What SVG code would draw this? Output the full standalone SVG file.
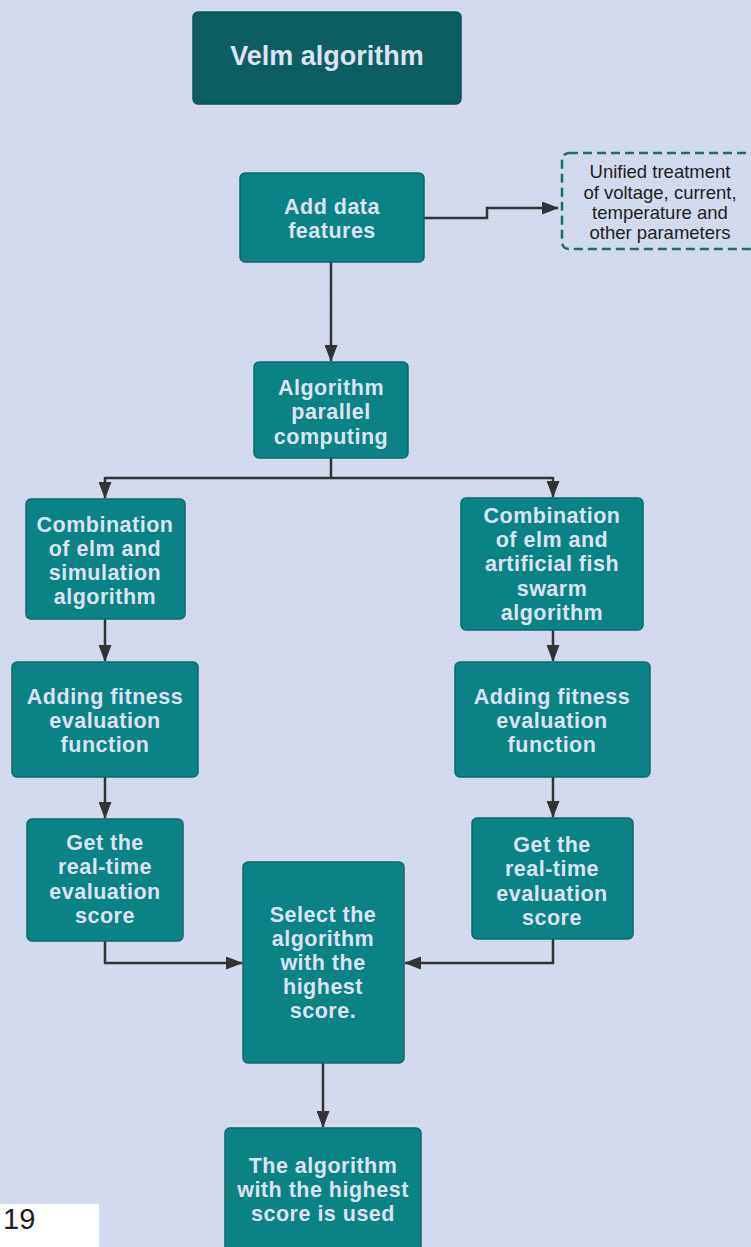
<svg xmlns="http://www.w3.org/2000/svg" width="751" height="1247" viewBox="0 0 751 1247">
<defs>
<pattern id="tex" width="8" height="3" patternUnits="userSpaceOnUse">
<rect width="8" height="3" fill="#d4dbee"/>
<rect y="2" width="8" height="1" fill="#ccd4e8" opacity="0.6"/>
</pattern>
<marker id="ah" viewBox="0 0 17 13" refX="16" refY="6.5" markerWidth="17" markerHeight="13" markerUnits="userSpaceOnUse" orient="auto">
<path d="M0,0 L17,6.5 L0,13 Z" fill="#333"/>
</marker>
<style>
.box{fill:#0b8385;stroke:#0a6b6c;stroke-width:1.5}
.title{fill:#0b5f60;stroke:#0a5556;stroke-width:1.5}
.t{font-family:"Liberation Sans",Arial,sans-serif;font-weight:bold;font-size:21.5px;letter-spacing:0.5px;fill:#dde3f2;text-anchor:middle}
.tt{font-family:"Liberation Sans",Arial,sans-serif;font-weight:bold;font-size:27px;fill:#dde3f2;text-anchor:middle}
.d{font-family:"Liberation Sans",Arial,sans-serif;font-size:18.5px;fill:#1e1e1e;text-anchor:middle}
.c{fill:none;stroke:#333;stroke-width:2.5}
</style>
</defs>
<rect width="751" height="1247" fill="url(#tex)"/>

<g id="connectors">
<path class="c" d="M424,218 H487 V208 H558" marker-end="url(#ah)"/>
<path class="c" d="M331,262 V361" marker-end="url(#ah)"/>
<path class="c" d="M331,458 V478"/>
<path class="c" d="M105,478 H553"/>
<path class="c" d="M105,477 V498" marker-end="url(#ah)"/>
<path class="c" d="M553,477 V497" marker-end="url(#ah)"/>
<path class="c" d="M105,619 V661" marker-end="url(#ah)"/>
<path class="c" d="M553,630 V661" marker-end="url(#ah)"/>
<path class="c" d="M105,777 V818" marker-end="url(#ah)"/>
<path class="c" d="M553,777 V817" marker-end="url(#ah)"/>
<path class="c" d="M105,941 V963 H242" marker-end="url(#ah)"/>
<path class="c" d="M553,939 V963 H405" marker-end="url(#ah)"/>
<path class="c" d="M323,1063 V1127" marker-end="url(#ah)"/>
</g>

<g id="n-title">
<rect class="title" x="193" y="12" width="268" height="92" rx="5"/>
<text class="tt" x="327" y="65">Velm algorithm</text>
</g>

<g id="n-add">
<rect class="box" x="240" y="173" width="184" height="89" rx="5"/>
<text class="t" x="332" y="214">Add data</text>
<text class="t" x="332" y="238">features</text>
</g>

<g id="n-note">
<rect x="562" y="153" width="200" height="96" rx="7" fill="none" stroke="#1d6b6b" stroke-width="2.5" stroke-dasharray="9,5"/>
<text class="d" x="660" y="178">Unified treatment</text>
<text class="d" x="660" y="198.5">of voltage, current,</text>
<text class="d" x="660" y="219">temperature and</text>
<text class="d" x="660" y="239">other parameters</text>
</g>

<g id="n-parallel">
<rect class="box" x="254" y="362" width="154" height="96" rx="5"/>
<text class="t" x="331" y="395">Algorithm</text>
<text class="t" x="331" y="419">parallel</text>
<text class="t" x="331" y="444">computing</text>
</g>

<g id="n-comb-left">
<rect class="box" x="26" y="499" width="159" height="120" rx="5"/>
<text class="t" x="105" y="532">Combination</text>
<text class="t" x="105" y="556">of elm and</text>
<text class="t" x="105" y="580">simulation</text>
<text class="t" x="105" y="604">algorithm</text>
</g>

<g id="n-comb-right">
<rect class="box" x="461" y="498" width="182" height="132" rx="5"/>
<text class="t" x="552" y="523">Combination</text>
<text class="t" x="552" y="547">of elm and</text>
<text class="t" x="552" y="571">artificial fish</text>
<text class="t" x="552" y="596">swarm</text>
<text class="t" x="552" y="620">algorithm</text>
</g>

<g id="n-fit-left">
<rect class="box" x="12" y="662" width="186" height="115" rx="5"/>
<text class="t" x="105" y="704">Adding fitness</text>
<text class="t" x="105" y="728">evaluation</text>
<text class="t" x="105" y="752">function</text>
</g>

<g id="n-fit-right">
<rect class="box" x="455" y="662" width="195" height="115" rx="5"/>
<text class="t" x="552" y="704">Adding fitness</text>
<text class="t" x="552" y="728">evaluation</text>
<text class="t" x="552" y="752">function</text>
</g>

<g id="n-get-left">
<rect class="box" x="27" y="819" width="156" height="122" rx="5"/>
<text class="t" x="105" y="850">Get the</text>
<text class="t" x="105" y="874">real-time</text>
<text class="t" x="105" y="899">evaluation</text>
<text class="t" x="105" y="923">score</text>
</g>

<g id="n-get-right">
<rect class="box" x="472" y="818" width="161" height="121" rx="5"/>
<text class="t" x="552" y="852">Get the</text>
<text class="t" x="552" y="876">real-time</text>
<text class="t" x="552" y="901">evaluation</text>
<text class="t" x="552" y="925">score</text>
</g>

<g id="n-select">
<rect class="box" x="243" y="862" width="161" height="201" rx="5"/>
<text class="t" x="323" y="922">Select the</text>
<text class="t" x="323" y="946">algorithm</text>
<text class="t" x="323" y="970">with the</text>
<text class="t" x="323" y="994">highest</text>
<text class="t" x="323" y="1018">score.</text>
</g>

<g id="n-final">
<rect class="box" x="225" y="1128" width="196" height="130" rx="5"/>
<text class="t" x="323" y="1173">The algorithm</text>
<text class="t" x="323" y="1197">with the highest</text>
<text class="t" x="323" y="1221">score is used</text>
</g>

<g id="n-page">
<rect x="0" y="1204" width="99" height="43" fill="#ffffff"/>
<text x="3" y="1229" font-family="Liberation Sans, Arial, sans-serif" font-size="29" fill="#1e1e1e">19</text>
</g>
</svg>
